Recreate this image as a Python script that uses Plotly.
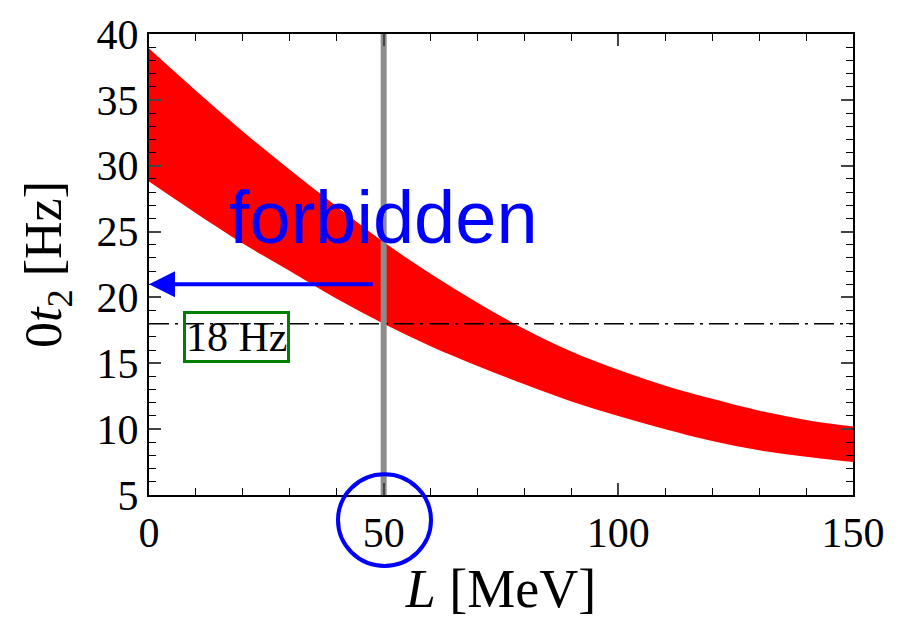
import plotly.graph_objects as go

# Data
L_vals = [0, 10, 20, 30, 40, 50, 60, 70, 80, 90, 100, 110, 120, 130, 140, 150]
upper = [38.9, 35.7, 32.6, 29.7, 26.9, 24.2, 21.8, 19.6, 17.6, 15.9, 14.5, 13.3, 12.3, 11.4, 10.7, 10.2]
lower = [28.8, 26.4, 24.1, 22.0, 19.9, 18.0, 16.3, 14.8, 13.4, 12.1, 11.0, 10.0, 9.1, 8.4, 7.9, 7.5]
threshold = 18
L_mark = 50
arrow_y = 21.0
arrow_x_start = 48

x_ticks = [0, 50, 100, 150]
y_ticks = [5, 10, 15, 20, 25, 30, 35, 40]

fig = go.Figure()
fig.add_trace(go.Scatter(x=L_vals, y=lower, mode="lines", line=dict(color="red", width=0, shape="spline"),
                         showlegend=False, hoverinfo="skip"))
fig.add_trace(go.Scatter(x=L_vals, y=upper, mode="lines", line=dict(color="red", width=0, shape="spline"),
                         fill="tonexty", fillcolor="red", showlegend=False, hoverinfo="skip"))
# 18 Hz dash-dot line
fig.add_trace(go.Scatter(x=[0, 150], y=[threshold, threshold], mode="lines",
                         line=dict(color="black", width=1.3, dash="20px,6px,3px,6px"),
                         showlegend=False, hoverinfo="skip"))
# vertical gray line at L=50
fig.add_trace(go.Scatter(x=[L_mark, L_mark], y=[5, 40], mode="lines",
                         line=dict(color="#8c8c8c", width=6),
                         showlegend=False, hoverinfo="skip"))

serif = "Liberation Serif, Times New Roman, serif"

fig.update_layout(
    width=898, height=620,
    margin=dict(l=149, r=45, t=27, b=125),
    plot_bgcolor="white", paper_bgcolor="white",
    font=dict(family=serif, color="black", size=42),
    xaxis=dict(range=[0, 150], tickvals=x_ticks, ticks="inside", ticklen=12, tickwidth=1.5,
               showline=True, linecolor="black", linewidth=2, mirror="allticks", showgrid=False,
               zeroline=False, tickfont=dict(size=42, family=serif),
               minor=dict(dtick=10, ticks="inside", ticklen=7, tickwidth=1.2, tickcolor="black", showgrid=False),
               title=dict(text="<i>L</i> [MeV]", font=dict(size=54, family=serif), standoff=14)),
    yaxis=dict(range=[5, 40], tickvals=y_ticks, ticks="inside", ticklen=12, tickwidth=1.5,
               showline=True, linecolor="black", linewidth=2, mirror="allticks", showgrid=False,
               zeroline=False, tickfont=dict(size=42, family=serif),
               minor=dict(dtick=1, ticks="inside", ticklen=7, tickwidth=1.2, tickcolor="black", showgrid=False),
               title=dict(text="0<i>t</i><sub>2</sub> [Hz]", font=dict(size=52, family=serif), standoff=18)),
)

# forbidden arrow
fig.add_annotation(x=0, y=arrow_y, ax=arrow_x_start, ay=arrow_y, xref="x", yref="y", axref="x", ayref="y",
                   showarrow=True, arrowhead=2, arrowsize=1.3, arrowwidth=4, arrowcolor="blue", text="")
fig.add_annotation(x=L_mark, y=26.1, xref="x", yref="y", text="forbidden", showarrow=False,
                   font=dict(family="Liberation Sans, Arial, sans-serif", size=74, color="blue"))
# 18 Hz box
fig.add_annotation(x=18.7, y=17.0, xref="x", yref="y", text="18 Hz", showarrow=False,
                   font=dict(family=serif, size=42, color="black"),
                   bordercolor="green", borderwidth=3, borderpad=0, bgcolor="rgba(0,0,0,0)")

# blue circle around 50 tick label (paper coordinates)
def px_to_paper_x(px):
    return (px - 149) / (853 - 149)

def px_to_paper_y(py):
    return (495 - py) / (495 - 27)

fig.add_shape(type="circle", xref="paper", yref="paper",
              x0=px_to_paper_x(338), x1=px_to_paper_x(431),
              y0=px_to_paper_y(567), y1=px_to_paper_y(474),
              line=dict(color="blue", width=4))

fig.write_html("out.html")
